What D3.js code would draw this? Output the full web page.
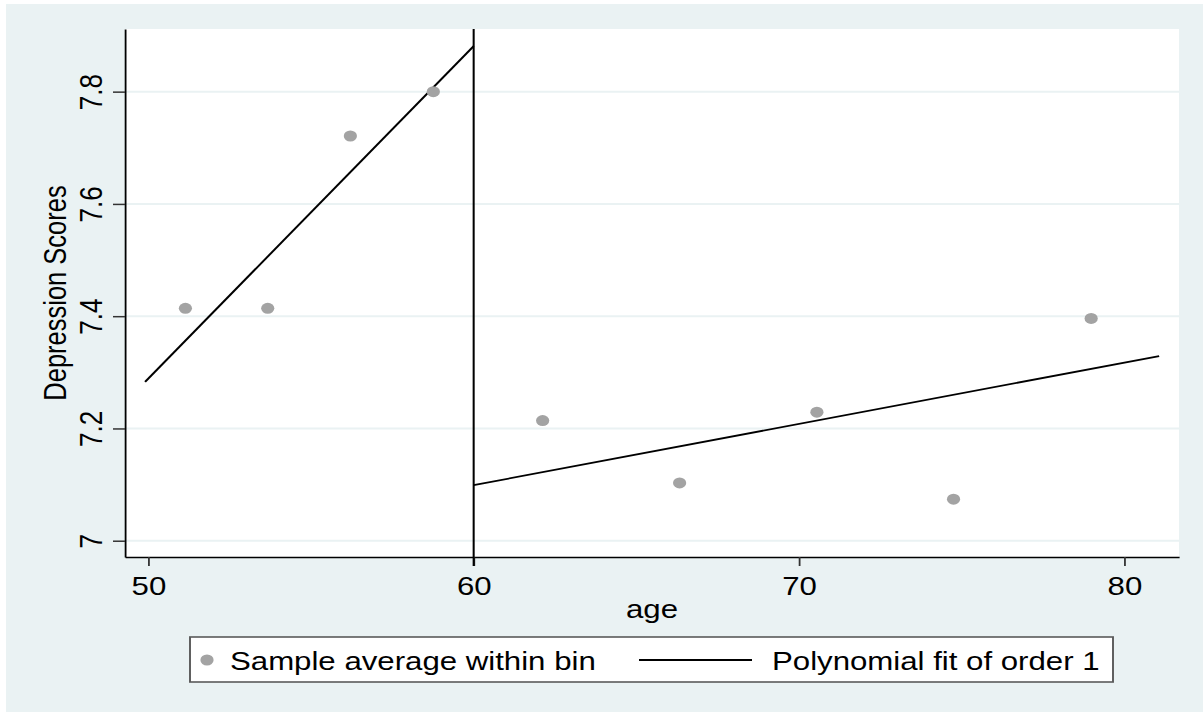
<!DOCTYPE html>
<html>
<head>
<meta charset="utf-8">
<script src="https://cdnjs.cloudflare.com/ajax/libs/d3/7.8.5/d3.min.js"></script>
<style>
    html, body { margin: 0; padding: 0; background: #ffffff; overflow: hidden; }
    svg { display: block; }
</style>
</head>
<body>
<div id="chart"></div>
<script>
'use strict';

// binned sample averages
var binAges = [51.14, 53.67, 56.21, 58.76, 62.12, 66.33, 70.55, 74.75, 78.98];
var binScores = [7.414, 7.414, 7.721, 7.800, 7.214, 7.103, 7.229, 7.074, 7.396];

// linear fits on each side of the cutoff
var fitLeftAges = [49.90, 60];
var fitLeftScores = [7.283, 7.881];
var fitRightAges = [60, 81.07];
var fitRightScores = [7.099, 7.329];
var cutoffAge = 60;

var xTicks = [50, 60, 70, 80];
var yTicks = [7, 7.2, 7.4, 7.6, 7.8];
var xDomain = [49.283, 81.68];
var yDomain = [6.971, 7.9116];
var legendLabels = ['Sample average within bin', 'Polynomial fit of order 1'];

// the picture is stretched sideways, so draw in narrower units and let the viewBox widen it
var width = 1203,
    height = 712,
    stretch = 1.2,
    vbWidth = width / stretch;

var plot = { left: 125 / stretch, right: 1179 / stretch, top: 29, bottom: 557 };
var font = '"Liberation Sans", Arial, Helvetica, sans-serif';

var svg = d3.select('#chart').append('svg')
    .attr('width', width)
    .attr('height', height)
    .attr('viewBox', '0 0 ' + vbWidth + ' ' + height)
    .attr('preserveAspectRatio', 'none')
    .style('font-family', font);

var x = d3.scaleLinear().domain(xDomain).range([plot.left, plot.right]);
var y = d3.scaleLinear().domain(yDomain).range([plot.bottom, plot.top]);

// graph region
svg.append('rect')
    .attr('x', 6 / stretch)
    .attr('y', 4)
    .attr('width', vbWidth)
    .attr('height', height)
    .attr('fill', '#eaf2f3');

// plot region
svg.append('rect')
    .attr('x', plot.left)
    .attr('y', plot.top)
    .attr('width', plot.right - plot.left)
    .attr('height', plot.bottom - plot.top)
    .attr('fill', '#ffffff');

svg.append('g')
    .attr('id', 'grid-layer')
    .selectAll('line')
    .data(yTicks)
    .enter().append('line')
        .attr('x1', plot.left)
        .attr('x2', plot.right)
        .attr('y1', function(d) { return y(d); })
        .attr('y2', function(d) { return y(d); })
        .attr('stroke', '#eaf2f3')
        .attr('stroke-width', 2);

// y axis
var yAxis = svg.append('g')
    .attr('transform', 'translate(' + plot.left + ',0)')
    .call(d3.axisLeft(y).tickValues(yTicks).tickSize(10).tickSizeOuter(0)
        .tickFormat(function(d) { return d === 7 ? '7' : d3.format('.1f')(d); }));

yAxis.selectAll('.tick text')
    .attr('x', null)
    .attr('dy', null)
    .attr('text-anchor', 'middle')
    .attr('transform', 'translate(-19,0) rotate(-90)');

// x axis
var xAxis = svg.append('g')
    .attr('transform', 'translate(0,' + plot.bottom + ')')
    .call(d3.axisBottom(x).tickValues(xTicks).tickSize(9).tickSizeOuter(0).tickFormat(d3.format('d')));

xAxis.selectAll('.tick text')
    .attr('y', 38)
    .attr('dy', null);

svg.selectAll('.domain')
    .attr('stroke', '#000000')
    .attr('stroke-width', 1.5);

svg.selectAll('.tick line')
    .attr('stroke', '#333333')
    .attr('stroke-width', 1.5);

svg.selectAll('.tick text')
    .attr('fill', '#000000')
    .attr('font-family', font)
    .attr('font-size', '26px');

// axis titles
svg.append('text')
    .attr('x', (plot.left + plot.right) / 2)
    .attr('y', 618)
    .attr('text-anchor', 'middle')
    .attr('font-size', '26px')
    .text('age');

svg.append('text')
    .attr('transform', 'translate(' + (66 / stretch) + ',' + ((plot.top + plot.bottom) / 2) + ') rotate(-90)')
    .attr('text-anchor', 'middle')
    .attr('font-size', '25.5px')
    .text('Depression Scores');

// cutoff line
svg.append('line')
    .attr('x1', x(cutoffAge))
    .attr('x2', x(cutoffAge))
    .attr('y1', plot.top)
    .attr('y2', plot.bottom + 9)
    .attr('stroke', '#000000')
    .attr('stroke-width', 1.7);

var line = d3.line()
    .x(function(d) { return x(d[0]); })
    .y(function(d) { return y(d[1]); });

[[fitLeftAges, fitLeftScores], [fitRightAges, fitRightScores]].forEach(function(fit) {
    svg.append('path')
        .attr('d', line(d3.zip(fit[0], fit[1])))
        .attr('fill', 'none')
        .attr('stroke', '#000000')
        .attr('stroke-width', 1.8);
});

svg.append('g')
    .attr('id', 'points-layer')
    .selectAll('circle')
    .data(d3.zip(binAges, binScores))
    .enter().append('circle')
        .attr('cx', function(d) { return x(d[0]); })
        .attr('cy', function(d) { return y(d[1]); })
        .attr('r', 5.5)
        .attr('fill', '#a3a3a3');

// legend
var legend = svg.append('g')
    .attr('id', 'legend-layer');

legend.append('rect')
    .attr('x', 190 / stretch)
    .attr('y', 637)
    .attr('width', (1113 - 190) / stretch)
    .attr('height', 45)
    .attr('fill', '#ffffff')
    .attr('stroke', '#5a5a5a')
    .attr('stroke-width', 1.6);

legend.append('circle')
    .attr('cx', 207 / stretch)
    .attr('cy', 660)
    .attr('r', 5.5)
    .attr('fill', '#a3a3a3');

legend.append('line')
    .attr('x1', 639 / stretch)
    .attr('x2', 752 / stretch)
    .attr('y1', 660)
    .attr('y2', 660)
    .attr('stroke', '#000000')
    .attr('stroke-width', 1.8);

legend.selectAll('text')
    .data(legendLabels)
    .enter().append('text')
        .attr('x', function(d, i) { return (i === 0 ? 230 : 772) / stretch; })
        .attr('y', 670)
        .attr('font-size', '26px')
        .text(function(d) { return d; });
</script>
</body>
</html>
